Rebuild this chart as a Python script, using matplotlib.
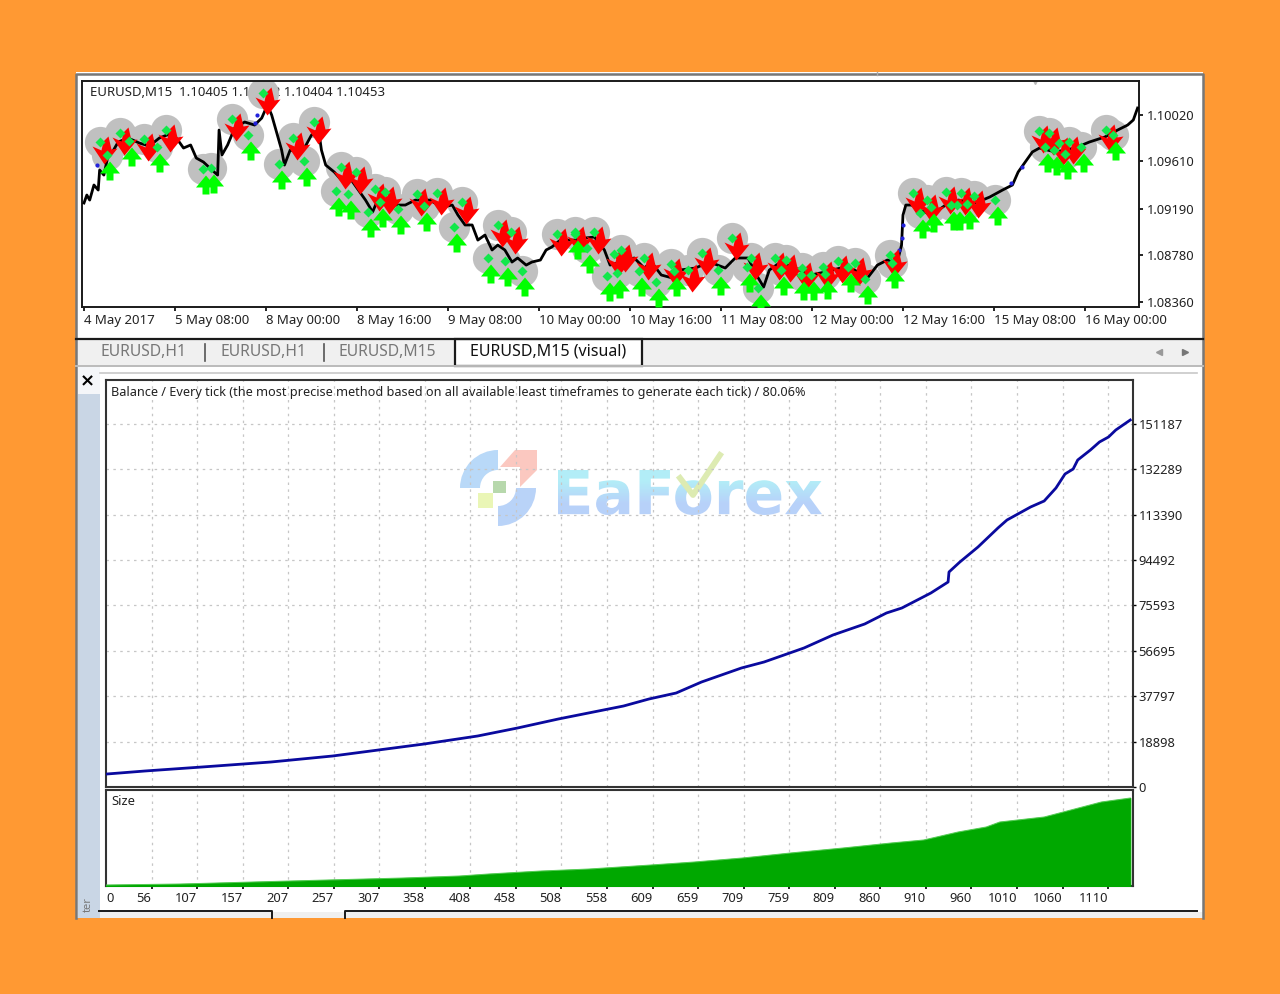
import numpy as np
import matplotlib
matplotlib.use("Agg")
import matplotlib.pyplot as plt
from matplotlib.path import Path
from matplotlib.patches import Rectangle, Polygon, Wedge, PathPatch
from matplotlib.textpath import TextPath
from matplotlib.font_manager import FontProperties

plt.rcParams['font.family'] = ['Noto Sans', 'DejaVu Sans']

W, H = 1280, 994

# price chart, M15 bars from the first tick
price_bars = [0, 2, 4, 7, 10, 11, 14, 17, 20, 24, 31, 39, 46, 53, 62, 66, 70, 75, 79, 84, 90, 94, 95, 97, 101,
              106, 113, 120, 125, 129, 132, 135, 139, 141, 145, 151, 155, 160, 165, 167, 170, 176, 181, 187,
              193, 198, 203, 208, 217, 226, 233, 243, 252, 259, 263, 268, 273, 277, 282, 287, 291, 296, 301,
              305, 311, 315, 321, 325, 329, 335, 345, 352, 359, 366, 370, 377, 387, 394, 399, 406, 414, 419,
              430, 440, 451, 458, 467, 473, 478, 482, 490, 500, 511, 521, 532, 542, 551, 558, 565, 572, 575,
              576, 578, 582, 588, 596, 606, 615, 627, 637, 646, 653, 657, 663, 667, 672, 683, 697, 707, 718,
              727, 734, 738, 741]
price_vals = [1.09239, 1.09310, 1.09265, 1.09399, 1.09354, 1.09532, 1.09487, 1.09665, 1.09692, 1.09780, 1.09816,
              1.09771, 1.09745, 1.09816, 1.09860, 1.09798, 1.09727, 1.09754, 1.09638, 1.09603, 1.09532, 1.09487,
              1.09887, 1.09665, 1.09754, 1.09905, 1.09958, 1.09931, 1.09993, 1.10109, 1.10020, 1.09887, 1.09709,
              1.09576, 1.09709, 1.09692, 1.09727, 1.09842, 1.09887, 1.09709, 1.09576, 1.09514, 1.09443, 1.09461,
              1.09354, 1.09265, 1.09159, 1.09310, 1.09221, 1.09221, 1.09265, 1.09265, 1.09203, 1.09221, 1.09132,
              1.09044, 1.09044, 1.08910, 1.08955, 1.08822, 1.08866, 1.08822, 1.08715, 1.08751, 1.08688, 1.08715,
              1.08733, 1.08822, 1.08848, 1.08910, 1.08910, 1.08928, 1.08937, 1.08822, 1.08688, 1.08715, 1.08751,
              1.08662, 1.08715, 1.08600, 1.08573, 1.08644, 1.08662, 1.08715, 1.08662, 1.08751, 1.08751, 1.08600,
              1.08493, 1.08644, 1.08715, 1.08662, 1.08600, 1.08626, 1.08662, 1.08644, 1.08573, 1.08688, 1.08733,
              1.08715, 1.08866, 1.09132, 1.09221, 1.09221, 1.09177, 1.09132, 1.09221, 1.09265, 1.09239, 1.09292,
              1.09354, 1.09399, 1.09514, 1.09621, 1.09692, 1.09727, 1.09692, 1.09727, 1.09780, 1.09825, 1.09887,
              1.09931, 1.09976, 1.10082]

sell_bars = [11, 25, 42, 58, 104, 126, 147, 162, 181, 191, 205, 212, 234, 248, 266, 291, 300, 333, 345, 359, 373,
             378, 394, 413, 425, 435, 456, 469, 486, 494, 505, 520, 530, 542, 567, 583, 593, 606, 617, 626, 672,
             679, 686, 693, 719]
sell_vals = [1.09780, 1.09860, 1.09807, 1.09887, 1.09985, 1.10215, 1.09816, 1.09958, 1.09558, 1.09514, 1.09363,
             1.09336, 1.09319, 1.09328, 1.09248, 1.09044, 1.08981, 1.08964, 1.08981, 1.08981, 1.08786, 1.08822,
             1.08751, 1.08697, 1.08644, 1.08795, 1.08928, 1.08751, 1.08751, 1.08733, 1.08662, 1.08671, 1.08724,
             1.08706, 1.08777, 1.09328, 1.09265, 1.09336, 1.09328, 1.09301, 1.09878, 1.09860, 1.09771, 1.09780,
             1.09887]

buy_bars = [16, 32, 51, 84, 89, 115, 137, 155, 177, 186, 200, 208, 221, 239, 260, 284, 296, 308, 345, 354, 368,
            375, 390, 402, 415, 446, 466, 474, 490, 504, 511, 521, 537, 549, 568, 588, 596, 610, 614, 621, 641,
            676, 682, 690, 701, 724]
buy_vals = [1.09665, 1.09789, 1.09736, 1.09541, 1.09550, 1.09842, 1.09585, 1.09612, 1.09345, 1.09319, 1.09159,
            1.09248, 1.09186, 1.09212, 1.09026, 1.08751, 1.08724, 1.08635, 1.08964, 1.08839, 1.08591, 1.08617,
            1.08635, 1.08538, 1.08635, 1.08644, 1.08671, 1.08484, 1.08644, 1.08600, 1.08600, 1.08609, 1.08671,
            1.08564, 1.08706, 1.09150, 1.09203, 1.09221, 1.09221, 1.09230, 1.09265, 1.09736, 1.09709, 1.09674,
            1.09736, 1.09842]

trail_bars = [9, 120, 122, 573, 575, 576, 652, 660]
trail_vals = [1.09576, 1.09949, 1.10020, 1.08822, 1.08928, 1.09044, 1.09420, 1.09560]

time_ticks = [i * 64 for i in range(12)]
time_labels = ['4 May 2017', '5 May 08:00', '8 May 00:00', '8 May 16:00', '9 May 08:00', '10 May 00:00',
               '10 May 16:00', '11 May 08:00', '12 May 00:00', '12 May 16:00', '15 May 08:00', '16 May 00:00']
price_ticks = [1.08360, 1.08780, 1.09190, 1.09610, 1.10020]
price_labels = ['1.08360', '1.08780', '1.09190', '1.09610', '1.10020']

# tester report
trades = [1, 43, 106, 182, 250, 351, 410, 454, 499, 571, 599, 629, 657, 701, 726, 770, 802, 837, 861, 878, 910,
          929, 930, 942, 962, 984, 994, 1020, 1035, 1048, 1058, 1067, 1072, 1086, 1096, 1106, 1114, 1130]
balance = [5412, 6661, 8326, 10408, 12905, 17901, 21231, 24562, 28308, 33720, 36634, 39132, 43712, 49540, 52038,
           57866, 63278, 67857, 72436, 74518, 80762, 85342, 89505, 93668, 99912, 107822, 111152, 116564, 119062,
           124474, 130302, 132383, 136130, 140293, 143624, 145705, 148619, 152782]
size_trades = [0, 82, 162, 244, 328, 390, 422, 480, 533, 601, 649, 702, 755, 813, 866, 902, 940, 971, 986, 1035,
               1056, 1098, 1130]
size_lots = [0.5, 1, 2, 3, 4, 5, 6, 7.5, 8.5, 10.5, 12, 14, 16.5, 19, 21.5, 23, 27, 29.5, 32, 34.5, 37, 42, 44]
balance_ticks = [0, 18898, 37797, 56695, 75593, 94492, 113390, 132289, 151187]
trade_labels = ['0', '56', '107', '157', '207', '257', '307', '358', '408', '458', '508', '558', '609', '659',
                '709', '759', '809', '860', '910', '960', '1010', '1060', '1110']
trade_ticks = [i * 50.25 for i in range(len(trade_labels))]

ORANGE = '#FF9933'
DARK = '#1a1a1a'
INK = '#222222'
FS = 9.3


def axes_px(left, top, right, bottom):
    return fig.add_axes([left / W, 1 - bottom / H, (right - left) / W, (bottom - top) / H])


def marker_from(verts):
    # marker vertices in pixels around the signal point, y up
    verts = list(verts) + [verts[0]]
    codes = [Path.MOVETO] + [Path.LINETO] * (len(verts) - 2) + [Path.CLOSEPOLY]
    size = 1.44 * max(abs(v) for p in verts for v in p)
    return Path(verts, codes), size


fig = plt.figure(figsize=(W / 100, H / 100), dpi=100, facecolor=ORANGE)

# window chrome, in pixels
bg = fig.add_axes([0, 0, 1, 1])
bg.set_xlim(0, W)
bg.set_ylim(H, 0)
bg.axis('off')
bg.add_patch(Rectangle((76, 72), 1127, 846, fc='white', ec='none'))
bg.add_patch(Rectangle((76, 339), 1127, 27, fc='#F0F0F0', ec='none'))
bg.add_patch(Rectangle((78, 394), 22, 524, fc='#C9D6E5', ec='none'))
bg.add_patch(Rectangle((78, 366), 22, 28, fc='#F4F6F9', ec='none'))
bg.add_patch(Rectangle((100, 912), 1103, 6, fc='#F0F0F0', ec='none'))
bg.plot([76, 76, 1203, 1203], [918, 74, 74, 918], color='#777777', lw=1.8)
bg.plot([76, 1203], [339, 339], color=DARK, lw=1.6)
bg.plot([76, 1203], [366, 366], color='#BBBBBB', lw=1.4)
bg.plot([100, 1197], [373, 373], color='#C8C8C8', lw=1.2)
bg.plot([877, 877], [72, 75], color='#AAAAAA', lw=1)
bg.add_patch(Rectangle((455, 339), 187, 27, fc='white', ec=DARK, lw=1.6))
bg.plot([205, 205], [344, 361], color='#555555', lw=1.2)
bg.plot([324, 324], [344, 361], color='#555555', lw=1.2)
bg.text(101, 352, 'EURUSD,H1', fontsize=11.3, color='#777777', va='center')
bg.text(220, 352, 'EURUSD,H1', fontsize=11.3, color='#777777', va='center')
bg.text(339, 352, 'EURUSD,M15', fontsize=11.3, color='#777777', va='center')
bg.text(470, 352, 'EURUSD,M15 (visual)', fontsize=11.5, color='#111111', va='center')
bg.plot([1159], [352], marker='<', ms=4, color='#999999')
bg.plot([1185], [352], marker='>', ms=4, color='#777777')
bg.text(87, 381, '×', fontsize=13, fontweight='bold', color='black', ha='center', va='center',
        family='DejaVu Sans')
bg.text(88, 905, 'ter', fontsize=8, color='#777777', rotation=90, ha='center', va='center')
bg.plot([99, 272, 272], [911, 911, 918], color=DARK, lw=1.4)
bg.plot([345, 345, 1197], [918, 911, 911], color=DARK, lw=1.4)

# watermark sits under the tester grid
bg.add_patch(Wedge((498, 488), 38, 180, 270, width=20, fc='#B9D9F8', ec='none'))
bg.add_patch(Wedge((498, 488), 38, 0, 90, width=20, fc='#B9D3F8', ec='none'))
bg.add_patch(Polygon([(500, 467), (515, 450), (537, 450), (537, 470), (520, 487), (520, 467)], fc='#FBC8C0', ec='none'))
bg.add_patch(Rectangle((493, 481), 13, 12, fc='#B7D8AC', ec='none'))
bg.add_patch(Rectangle((478, 493), 15, 15, fc='#EAF6B6', ec='none'))
word = TextPath((0, 0), 'EaForex', size=50, prop=FontProperties(family='DejaVu Sans', weight='bold'))
box = word.get_extents()
word = word.transformed(matplotlib.transforms.Affine2D().translate(-box.x0, -box.y0)
                        .scale(264 / box.width, -45 / box.height).translate(558, 515))
word_patch = PathPatch(word, fc='none', ec='none', transform=bg.transData)
bg.add_patch(word_patch)
fade = np.array([[0.70, 0.93, 0.97], [0.72, 0.82, 0.98]]).reshape(2, 1, 3)
im = bg.imshow(fade, extent=(558, 822, 515, 470), aspect='auto', interpolation='bilinear', zorder=2)
im.set_clip_path(word_patch)
bg.set_xlim(0, W)
bg.set_ylim(H, 0)
bg.plot([680, 693, 720], [478, 495, 455], color='#DDEBB2', lw=4.2, zorder=3)

# price chart
ax1 = axes_px(82, 81, 1139, 307)
ax1.set_xlim(-1.4, 742)
ax1.set_ylim(1.08316, 1.10322)
ax1.text(90, 92, 'EURUSD,M15  1.10405 1.10412 1.10404 1.10453', fontsize=9.5, color=INK, va='center',
         transform=bg.transData, zorder=1)

grey_x = sell_bars + buy_bars
grey_y = sell_vals + buy_vals
ax1.plot(grey_x, grey_y, ls='none', marker='o', ms=22.5, mfc='#C0C0C0', mec='none', zorder=2)
ax1.plot(price_bars, price_vals, color='black', lw=2, zorder=3)
ax1.plot(trail_bars, trail_vals, ls='none', marker='o', ms=2, color='#2222DD', zorder=3)

down_arrow, down_size = marker_from([(8, 6), (11, -7), (17, -6), (4, -22), (-8, -4), (1, -8), (3, 1)])
up_arrow, up_size = marker_from([(2.5, -6), (12.5, -18), (6, -18), (6, -25), (-1, -25), (-1, -18), (-7.5, -18)])
ax1.plot(sell_bars, sell_vals, ls='none', marker=down_arrow, ms=down_size, mfc='#FF0000', mec='none', zorder=4)
ax1.plot(buy_bars, buy_vals, ls='none', marker=up_arrow, ms=up_size, mfc='#00FF00', mec='none', zorder=5)
ax1.plot(sell_bars + buy_bars, sell_vals + buy_vals, ls='none', marker='D', ms=5, mfc='#11E84A', mec='none', zorder=6)
ax1.plot([669], [1.10318], ls='none', marker='v', ms=5, color='#B8B8B8', zorder=2)

ax1.set_xticks(time_ticks)
ax1.set_xticklabels(time_labels, ha='left', fontsize=9.5, color=INK)
ax1.yaxis.tick_right()
ax1.set_yticks(price_ticks)
ax1.set_yticklabels(price_labels, fontsize=FS, color=INK)
ax1.tick_params(axis='x', length=3, width=1.2, pad=2)
ax1.tick_params(axis='y', length=3, width=1.2, pad=3)
for s in ax1.spines.values():
    s.set_linewidth(1.4)
    s.set_color(DARK)

# balance curve
ax2 = axes_px(106, 380, 1133, 787)
ax2.patch.set_alpha(0)
ax2.set_xlim(0, 1133)
ax2.set_ylim(0, 169434)
ax2.plot(trades, balance, color='#0A0A9E', lw=2, zorder=3)
ax2.set_xticks(trade_ticks[1:])
ax2.set_xticklabels([])
ax2.tick_params(axis='x', length=0)
ax2.yaxis.tick_right()
ax2.set_yticks(balance_ticks)
ax2.set_yticklabels([str(v) for v in balance_ticks], fontsize=FS, color=INK)
ax2.tick_params(axis='y', length=2, width=1, pad=2)
ax2.grid(True, color='#C6C6C6', lw=0.9, ls=(0, (2, 3.5)))
ax2.text(0.005, 0.969, 'Balance / Every tick (the most precise method based on all available least timeframes '
         'to generate each tick) / 80.06%', transform=ax2.transAxes, fontsize=9.15, color=INK, va='center')
for s in ax2.spines.values():
    s.set_linewidth(1.5)
    s.set_color('#333333')

# size panel
ax3 = axes_px(106, 790, 1133, 886)
ax3.set_xlim(0, 1133)
ax3.set_ylim(0, 48)
ax3.fill_between(size_trades, size_lots, 0, color='#00A800', lw=0.8, zorder=3)
ax3.plot(size_trades, size_lots, color='#55CC55', lw=0.7, zorder=3)
ax3.set_xticks(trade_ticks[1:])
ax3.set_xticklabels(trade_labels[1:], ha='right', fontsize=FS, color=INK)
ax3.set_yticks([])
ax3.tick_params(axis='x', length=2.5, width=1.2, pad=2)
ax3.grid(True, axis='x', color='#C6C6C6', lw=0.9, ls=(0, (2, 3.5)))
ax3.text(0, -0.125, trade_labels[0], transform=ax3.transAxes, fontsize=FS, color=INK, ha='left', va='center')
ax3.text(0.005, 0.88, 'Size', transform=ax3.transAxes, fontsize=FS, color=INK, va='center')
for s in ax3.spines.values():
    s.set_linewidth(1.5)
    s.set_color('#333333')

fig.savefig('out.png', dpi=100, facecolor=ORANGE)
